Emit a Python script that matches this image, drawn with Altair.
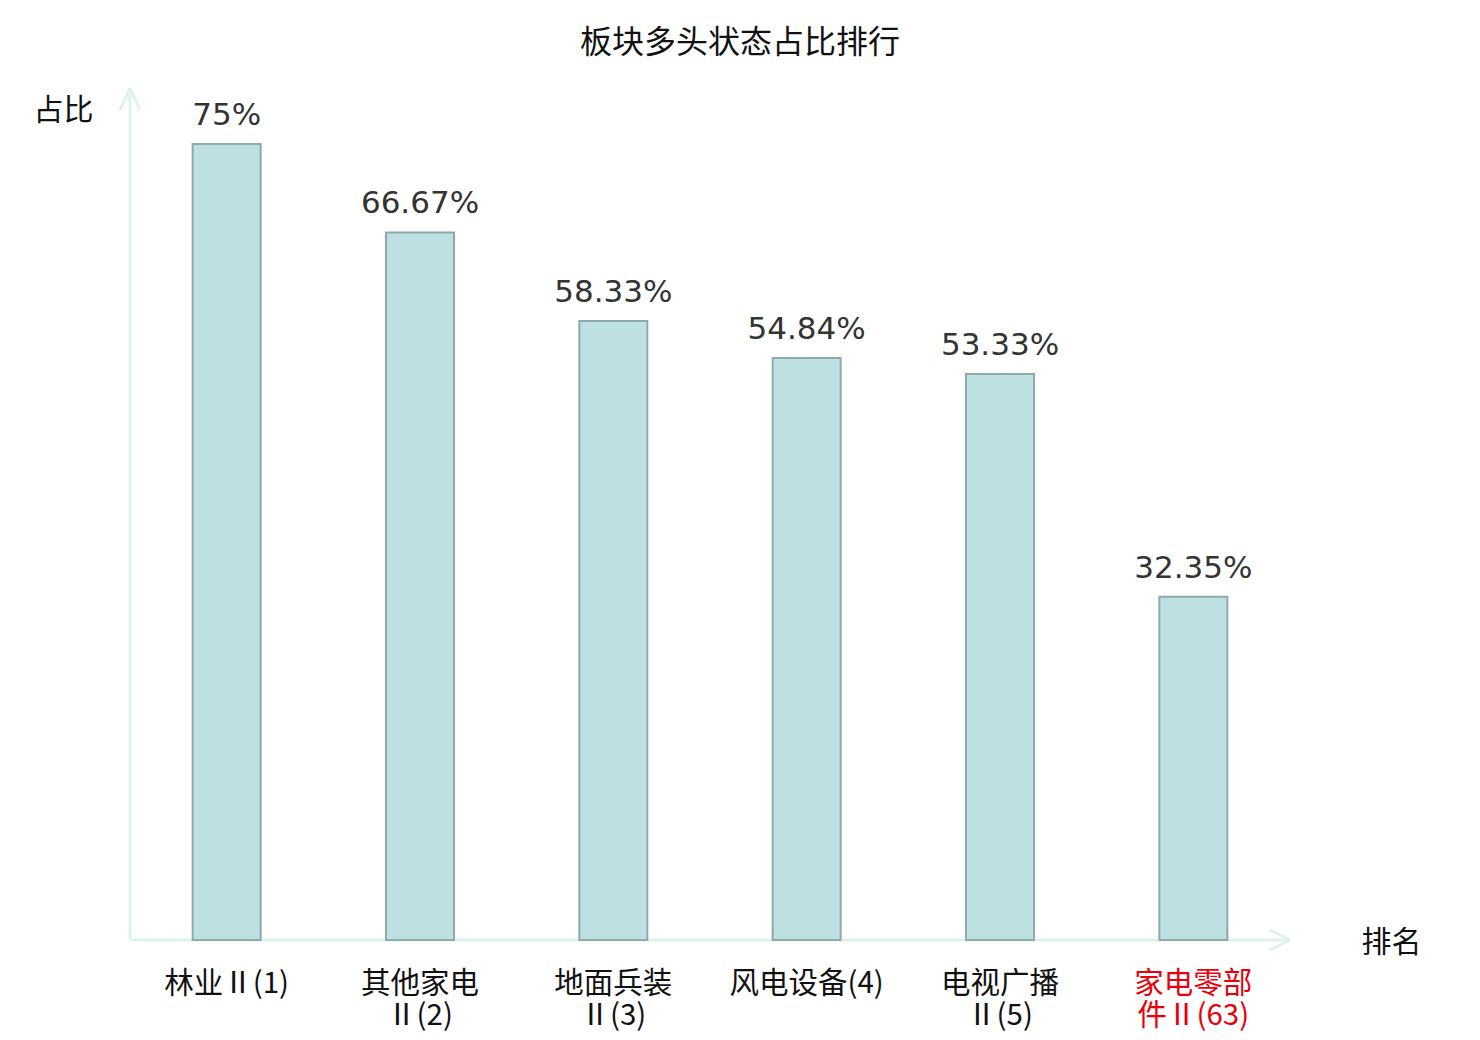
import altair as alt
import pandas as pd

categories = ["林业Ⅱ(1)", "其他家电\nⅡ(2)", "地面兵装\nⅡ(3)", "风电设备(4)", "电视广播\nⅡ(5)", "家电零部\n件Ⅱ(63)"]
values = [75, 66.67, 58.33, 54.84, 53.33, 32.35]
value_labels = ["75%", "66.67%", "58.33%", "54.84%", "53.33%", "32.35%"]

df = pd.DataFrame({"cat": categories, "val": values, "lab": value_labels})

W, H = 1160, 849
cjk = "Noto Sans CJK SC"
axis_col = "#dff2ef"

xenc = alt.X("cat:N", sort=categories,
             scale=alt.Scale(paddingInner=0, paddingOuter=0),
             axis=alt.Axis(title="排名", domain=False, ticks=False, labelAngle=0,
                           labelFont=cjk, labelFontSize=29.5, labelLineHeight=32,
                           labelPadding=29, labelBaseline="top",
                           labelExpr="split(datum.label, '\\n')",
                           labelColor={"expr": "indexof(datum.value, '(63)') >= 0 ? '#e8000b' : '#111111'"},
                           titleFont=cjk, titleFontSize=30, titleFontWeight="normal",
                           titleColor="#111111", titleX=1261, titleY=2,
                           titleAlign="center", titleBaseline="middle"))
yenc = alt.Y("val:Q", scale=alt.Scale(domain=[0, 80], nice=False),
             axis=alt.Axis(title="占比", domain=False, ticks=False, labels=False, grid=False,
                           titleFont=cjk, titleFontSize=30, titleFontWeight="normal",
                           titleColor="#111111", titleAngle=0, titleX=-67, titleY=19,
                           titleAlign="center", titleBaseline="middle"))

bars = alt.Chart(df).mark_bar(width=68, color="#bde0e3", stroke="#8eaaab", strokeWidth=2).encode(
    x=xenc, y=yenc)
texts = alt.Chart(df).mark_text(font="DejaVu Sans", fontSize=31, color="#333333",
                                baseline="alphabetic", dy=-19).encode(
    x=alt.X("cat:N", sort=categories), y="val:Q", text="lab:N")

line_df = pd.DataFrame({"k": [0]})
def rule(x1, y1, x2, y2):
    return alt.Chart(line_df).mark_rule(color=axis_col, strokeWidth=3).encode(
        x=alt.value(x1), y=alt.value(y1), x2=alt.value(x2), y2=alt.value(y2))

axes = [
    rule(0, -3, 0, H),
    rule(0, H, W, H),
    rule(0, -3, -10, 19),
    rule(0, -3, 10, 19),
    rule(W, H, W - 20, H - 10),
    rule(W, H, W - 20, H + 10),
]

chart = alt.layer(*axes, bars, texts).properties(
    width=W, height=H,
    title=alt.TitleParams("板块多头状态占比排行", font=cjk, fontSize=32, fontWeight="normal",
                          color="#111111", dx=30, offset=27),
    autosize=alt.AutoSizeParams(type="none"),
    padding={"left": 122, "top": 83, "right": 178, "bottom": 92},
).configure_view(stroke=None).configure_axis(grid=False)

chart.save("out.html", embed_options={"renderer": "svg", "actions": False})
